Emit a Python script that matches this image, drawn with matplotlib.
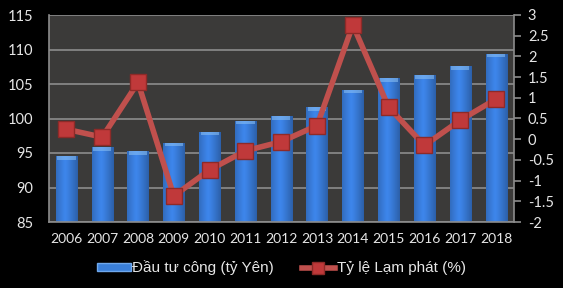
import matplotlib
matplotlib.use("Agg")
import matplotlib.pyplot as plt
import numpy as np
from matplotlib.lines import Line2D
from matplotlib.patches import Patch

years = ["2006", "2007", "2008", "2009", "2010", "2011", "2012",
         "2013", "2014", "2015", "2016", "2017", "2018"]
investment = [94.6, 95.9, 95.3, 96.5, 98.1, 99.7, 100.3,
              101.7, 104.2, 105.8, 106.3, 107.6, 109.4]
inflation = [0.24, 0.05, 1.37, -1.37, -0.74, -0.28, -0.06,
             0.33, 2.76, 0.77, -0.15, 0.46, 0.97]
bar_label = "Đầu tư công (tỷ Yên)"
line_label = "Tỷ lệ Lạm phát (%)"

plt.rcParams['font.family'] = ['Lato', 'DejaVu Sans']
TXT = "#e6e6e6"

fig = plt.figure(figsize=(5.63, 2.88), dpi=100, facecolor="black")
ax = fig.add_axes([48.5/563, 1-222/288, (514-48.5)/563, (222-15)/288])
ax.set_facecolor("#3b3a39")
x = np.arange(len(years))
bars = ax.bar(x, investment, width=0.59, bottom=0, color="#3a7fd9", zorder=2)
ax.set_yticks(np.arange(85, 116, 5))
ax.yaxis.grid(True, color="#8c8c8c", lw=1.2, zorder=1)
ax.set_axisbelow(True)

# gradient shading on bars
grad = np.linspace(0, 1, 64)
shade = 1 - 0.55 * np.abs(grad - 0.42) ** 1.2
img = np.zeros((1, 64, 3))
base = np.array([0.23, 0.50, 0.88])
img[0] = np.outer(shade, base) * 1.05
img = np.clip(img, 0, 1)
for b in bars:
    x0, w, h = b.get_x(), b.get_width(), b.get_height()
    im = ax.imshow(img, extent=[x0, x0 + w, 85, h], aspect="auto", zorder=2.5,
                   interpolation="bilinear")
    im.set_clip_path(b)
    ax.fill_between([x0 + 0.04, x0 + w - 0.04], h - 0.55, h, color="#8ec3f5",
                    alpha=0.55, zorder=2.6, lw=0)
ax.set_ylim(85, 115)
ax.set_xlim(-0.5, len(years) - 0.5)

for s in ["top", "right"]:
    ax.spines[s].set_visible(False)
for s in ["left", "bottom"]:
    ax.spines[s].set_color("#8c8c8c")
    ax.spines[s].set_linewidth(1.2)
ax.set_xticks(x)
ax.set_xticklabels(years)
ax.tick_params(axis="x", length=0, colors=TXT, labelsize=10, pad=8)
ax.tick_params(axis="y", length=0, colors=TXT, labelsize=10.5, pad=11)

ax2 = ax.twinx()
ax2.plot(x, inflation, color="#c0504d", lw=4, marker="s", markersize=11,
         markerfacecolor="#c0393a", markeredgecolor="#8e2a28", markeredgewidth=1,
         zorder=5, solid_joinstyle="miter")
ax2.set_ylim(-2, 3)
ax2.set_yticks(np.arange(-2, 3.01, 0.5))
ax2.set_yticklabels(["-2", "-1.5", "-1", "-0.5", "0", "0.5", "1", "1.5", "2", "2.5", "3"])
ax2.tick_params(axis="y", colors=TXT, labelsize=10.5, length=5, width=1.2,
                direction="out", pad=5)
ax2.tick_params(axis="y", color="#8c8c8c")
for s in ["top", "left", "bottom"]:
    ax2.spines[s].set_visible(False)
ax2.spines["right"].set_color("#8c8c8c")
ax2.spines["right"].set_linewidth(1.2)

handles = [Patch(facecolor="#3a7fd9", edgecolor="#6fa8ec"),
           Line2D([0], [0], color="#c0504d", lw=4, marker="s", markersize=8,
                  markerfacecolor="#c0393a", markeredgecolor="#8e2a28")]
leg = fig.legend(handles, [bar_label, line_label], loc="center",
                 bbox_to_anchor=(0.5, 1 - 268/288), ncol=2, frameon=False,
                 prop={"family": ["Liberation Sans", "DejaVu Sans"], "size": 11},
                 handlelength=2.2, handleheight=0.5,
                 columnspacing=1.8, handletextpad=0.1)
for t in leg.get_texts():
    t.set_color(TXT)

fig.savefig("out.png", dpi=100, facecolor="black")
